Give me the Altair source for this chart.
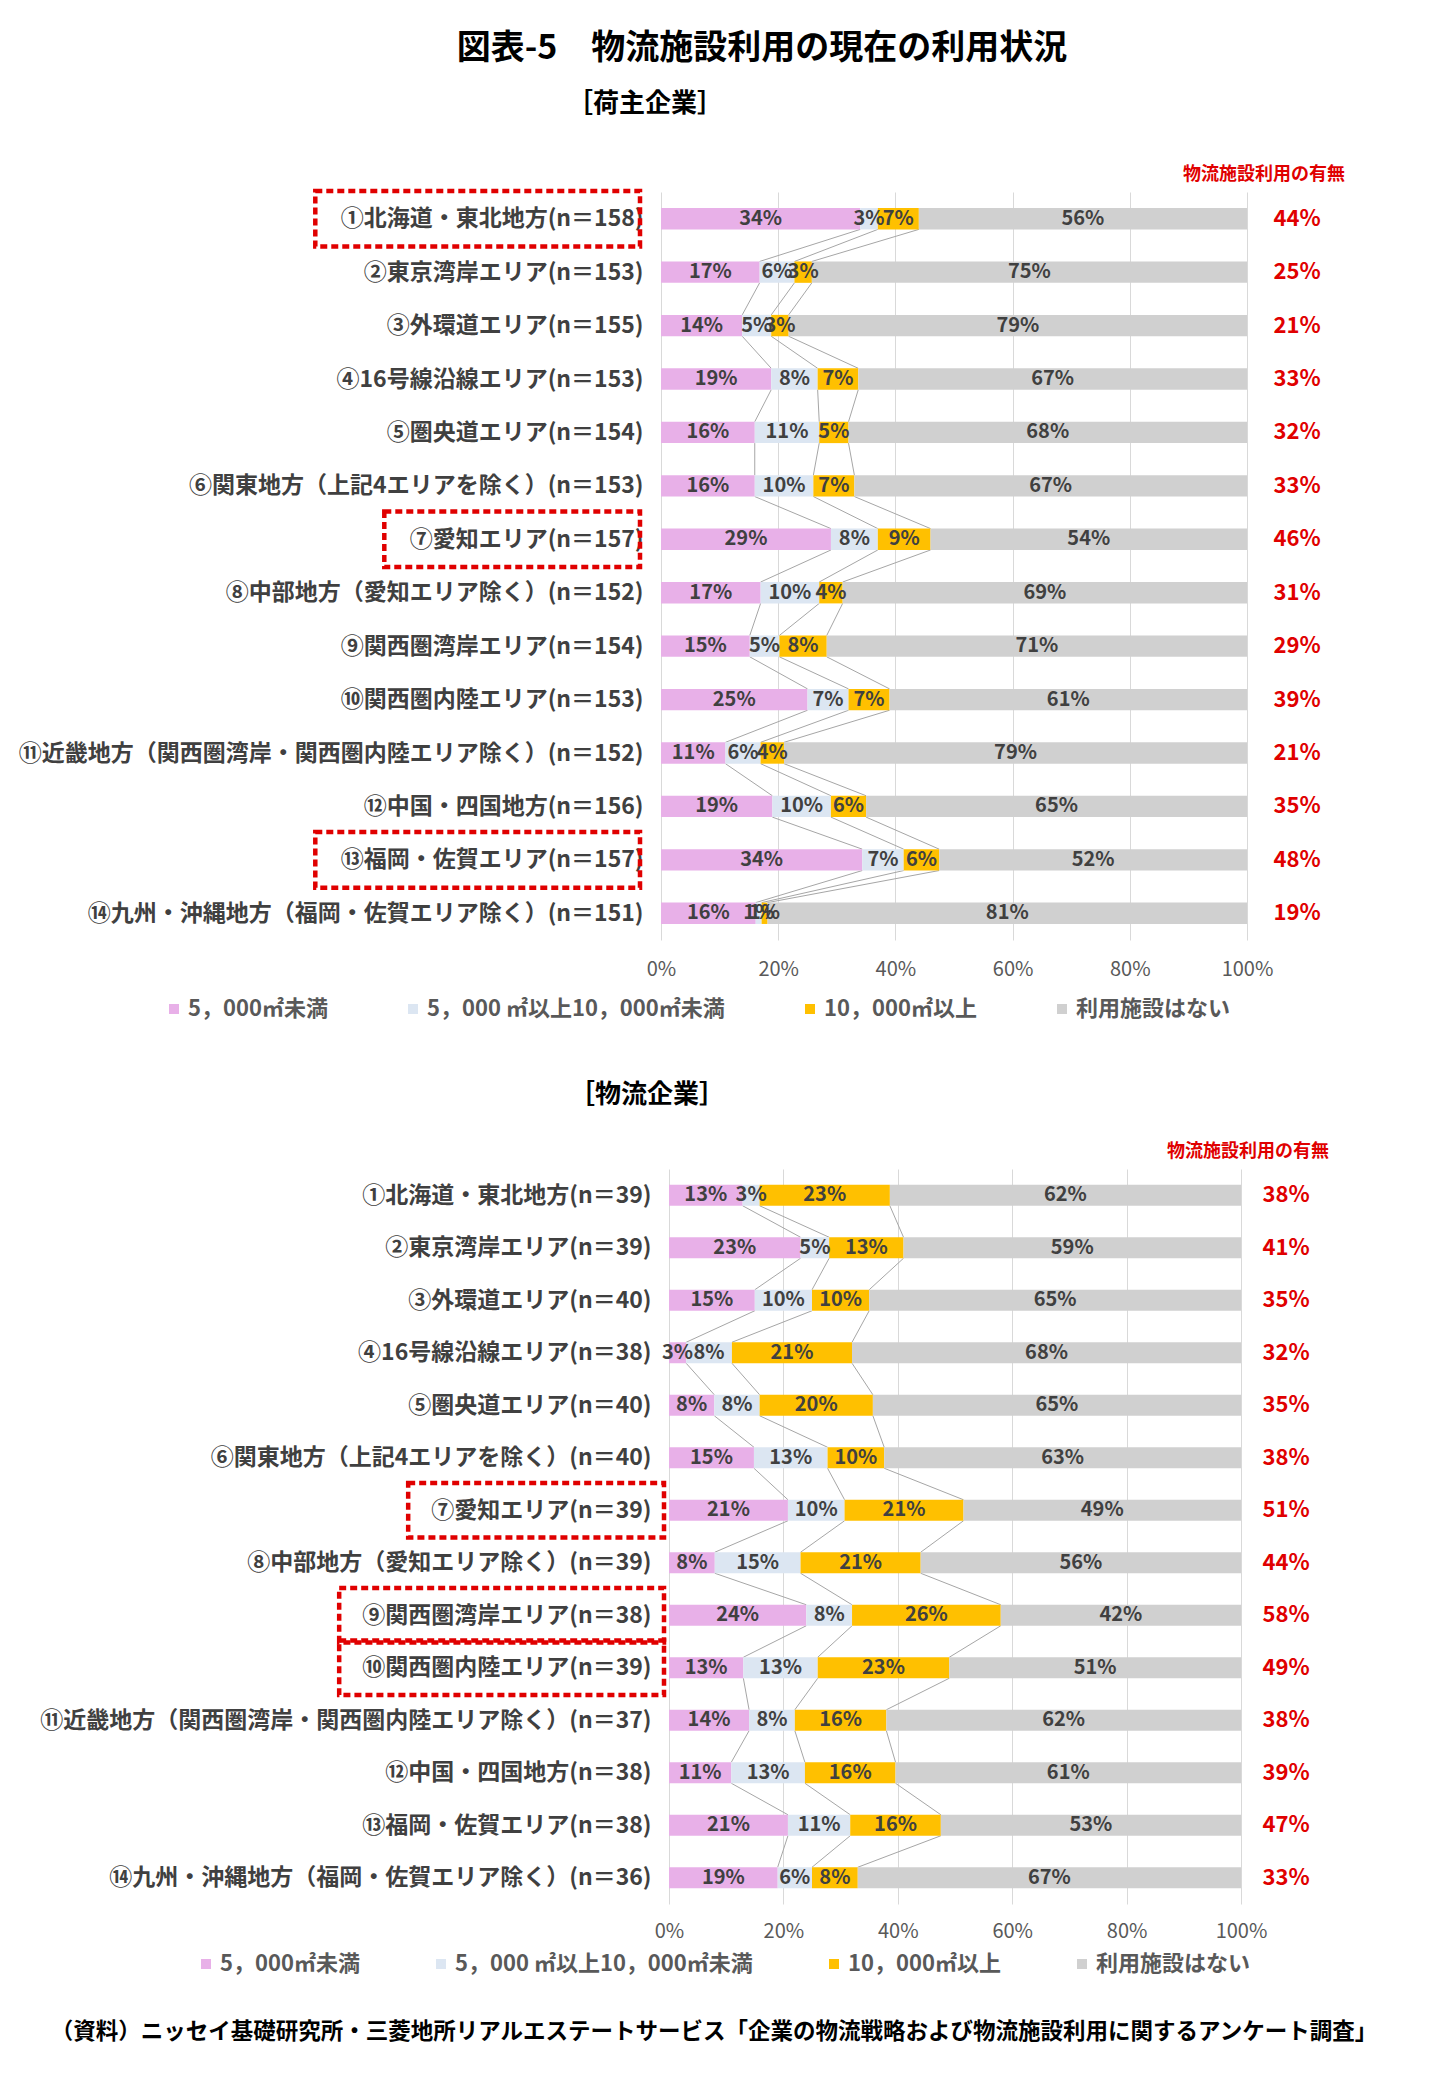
import json
import altair as alt
import pandas as pd

FONT = "Noto Sans CJK JP"

title_text = "図表-5　物流施設利用の現在の利用状況"
footnote_text = "（資料）ニッセイ基礎研究所・三菱地所リアルエステートサービス「企業の物流戦略および物流施設利用に関するアンケート調査」"
header_text = "物流施設利用の有無"

categories = ["5，000㎡未満", "5，000 ㎡以上10，000㎡未満", "10，000㎡以上", "利用施設はない"]
colors = ["#E8B0E8", "#DCE6F2", "#FFC000", "#D0D0D0"]

# ---- 荷主企業 ----
shipper_title = "［荷主企業］"
shipper_labels = [
    "①北海道・東北地方(n＝158)",
    "②東京湾岸エリア(n＝153)",
    "③外環道エリア(n＝155)",
    "④16号線沿線エリア(n＝153)",
    "⑤圏央道エリア(n＝154)",
    "⑥関東地方（上記4エリアを除く）(n＝153)",
    "⑦愛知エリア(n＝157)",
    "⑧中部地方（愛知エリア除く）(n＝152)",
    "⑨関西圏湾岸エリア(n＝154)",
    "⑩関西圏内陸エリア(n＝153)",
    "⑪近畿地方（関西圏湾岸・関西圏内陸エリア除く）(n＝152)",
    "⑫中国・四国地方(n＝156)",
    "⑬福岡・佐賀エリア(n＝157)",
    "⑭九州・沖縄地方（福岡・佐賀エリア除く）(n＝151)",
]
shipper_small = [34, 17, 14, 19, 16, 16, 29, 17, 15, 25, 11, 19, 34, 16]
shipper_mid = [3, 6, 5, 8, 11, 10, 8, 10, 5, 7, 6, 10, 7, 1]
shipper_large = [7, 3, 3, 7, 5, 7, 9, 4, 8, 7, 4, 6, 6, 1]
shipper_none = [56, 75, 79, 67, 68, 67, 54, 69, 71, 61, 79, 65, 52, 81]
shipper_use = [44, 25, 21, 33, 32, 33, 46, 31, 29, 39, 21, 35, 48, 19]
shipper_highlight = ["①", "⑦", "⑬"]

# ---- 物流企業 ----
logistics_title = "［物流企業］"
logistics_labels = [
    "①北海道・東北地方(n＝39)",
    "②東京湾岸エリア(n＝39)",
    "③外環道エリア(n＝40)",
    "④16号線沿線エリア(n＝38)",
    "⑤圏央道エリア(n＝40)",
    "⑥関東地方（上記4エリアを除く）(n＝40)",
    "⑦愛知エリア(n＝39)",
    "⑧中部地方（愛知エリア除く）(n＝39)",
    "⑨関西圏湾岸エリア(n＝38)",
    "⑩関西圏内陸エリア(n＝39)",
    "⑪近畿地方（関西圏湾岸・関西圏内陸エリア除く）(n＝37)",
    "⑫中国・四国地方(n＝38)",
    "⑬福岡・佐賀エリア(n＝38)",
    "⑭九州・沖縄地方（福岡・佐賀エリア除く）(n＝36)",
]
logistics_small = [13, 23, 15, 3, 8, 15, 21, 8, 24, 13, 14, 11, 21, 19]
logistics_mid = [3, 5, 10, 8, 8, 13, 10, 15, 8, 13, 8, 13, 11, 6]
logistics_large = [23, 13, 10, 21, 20, 10, 21, 21, 26, 23, 16, 16, 16, 8]
logistics_none = [62, 59, 65, 68, 65, 63, 49, 56, 42, 51, 62, 61, 53, 67]
logistics_use = [38, 41, 35, 32, 35, 38, 51, 44, 58, 49, 38, 39, 47, 33]
logistics_highlight = ["⑦", "⑨", "⑩"]


def est_width(s, size):
    w = 0.0
    for ch in s:
        if ch in "()":
            w += 0.33
        elif ord(ch) < 0x2000:
            w += 0.56
        else:
            w += 1.0
    return w * size


def panel(labels, small, mid, large, none, use, highlight, subtitle, p):
    series = [small, mid, large, none]
    n = len(labels)
    seg_rows, bounds = [], []
    for i in range(n):
        vals = [s[i] for s in series]
        total = sum(vals)
        cum = 0
        b = []
        for k, v in enumerate(vals):
            start = cum / total * 100
            cum += v
            end = cum / total * 100
            seg_rows.append(dict(row=i, cat=categories[k], value=v, start=start, end=end,
                                 mid=(start + end) / 2, y0=i - 0.2, y1=i + 0.2, label=f"{v}%"))
            b.append(end)
        bounds.append(b)
    seg = pd.DataFrame(seg_rows)
    lines = pd.DataFrame([dict(x=bounds[i][k], x2=bounds[i + 1][k], y=i + 0.2, y2=i + 0.8)
                          for i in range(n - 1) for k in range(3)])
    tot = pd.DataFrame(dict(row=list(range(n)), t=[f"{u}%" for u in use]))
    box_rows = []
    for i, lab in enumerate(labels):
        if lab[0] in highlight:
            box_rows.append(dict(bx=-(p["ypad"] + est_width(lab, 23) + p["boxpad"]),
                                 bx2=p["boxr"], by0=i - 0.52, by1=i + 0.52))
    boxes = pd.DataFrame(box_rows)

    xs = alt.Scale(domain=[0, 100], range=p["xrange"], nice=False, zero=False)
    ys = alt.Scale(domain=[-0.5, n - 0.5], reverse=True, nice=False, zero=False)
    xa = alt.Axis(values=[0, 20, 40, 60, 80, 100], labelExpr="datum.value + '%'", grid=True,
                  gridColor="#D9D9D9", gridWidth=1, domain=False, ticks=False, labelFont=FONT,
                  labelFontSize=20, labelColor="#595959", labelFontWeight="normal",
                  labelPadding=p["xpad"], labelFlush=False, labelOverlap=False, title=None)
    ya = alt.Axis(values=list(range(n)),
                  labelExpr=json.dumps(labels, ensure_ascii=False) + "[datum.value]",
                  grid=False, domain=False, ticks=False, labelFont=FONT, labelFontSize=23,
                  labelColor="#404040", labelFontWeight="bold", labelPadding=p["ypad"],
                  labelLimit=900, labelOverlap=False, labelFlush=False, title=None)

    line_layer = alt.Chart(lines).mark_rule(color="#A6A6A6", strokeWidth=1).encode(
        x=alt.X("x:Q", scale=xs, axis=xa), x2="x2:Q",
        y=alt.Y("y:Q", scale=ys, axis=ya), y2="y2:Q")
    bar_layer = alt.Chart(seg).mark_bar().encode(
        x=alt.X("start:Q", scale=xs, axis=xa), x2="end:Q",
        y=alt.Y("y0:Q", scale=ys, axis=ya), y2="y1:Q",
        color=alt.Color("cat:N", scale=alt.Scale(domain=categories, range=colors),
                        legend=alt.Legend(orient="none", legendX=p["lx"], legendY=p["ly"],
                                          direction="horizontal", symbolType="square",
                                          symbolSize=100, symbolStrokeWidth=0,
                                          labelFont=FONT, labelFontSize=22,
                                          labelColor="#595959", labelFontWeight="bold",
                                          labelLimit=600, labelOffset=3,
                                          columnPadding=p["lpad"], padding=0, title=None)))
    text_layer = alt.Chart(seg).mark_text(font=FONT, fontSize=20, fontWeight="bold",
                                          color="#404040").encode(
        x=alt.X("mid:Q", scale=xs, axis=xa),
        y=alt.Y("row:Q", scale=ys, axis=ya), text="label:N")
    tot_layer = alt.Chart(tot).mark_text(font=FONT, fontSize=22, fontWeight="bold",
                                         color="#E00000").encode(
        x=alt.value(p["totx"]), y=alt.Y("row:Q", scale=ys, axis=ya), text="t:N")
    head_layer = alt.Chart(pd.DataFrame({"t": [header_text]})).mark_text(
        font=FONT, fontSize=18, fontWeight="bold", color="#E00000").encode(
        x=alt.value(p["hx"]), y=alt.value(-17), text="t:N")
    sub_layer = alt.Chart(pd.DataFrame({"t": [subtitle]})).mark_text(
        font=FONT, fontSize=26, fontWeight="bold", color="#000000").encode(
        x=alt.value(p["sx"]), y=alt.value(p["sy"]), text="t:N")
    box_layer = alt.Chart(boxes).mark_rect(fillOpacity=0, stroke="#E00000", strokeWidth=4.5,
                                           strokeDash=[7, 4]).encode(
        x=alt.X("bx:Q", scale=None), x2="bx2:Q",
        y=alt.Y("by0:Q", scale=ys, axis=ya), y2="by1:Q")
    layers = [line_layer, bar_layer, text_layer, tot_layer, head_layer, sub_layer, box_layer]
    layers += p["extra"]
    return alt.layer(*layers).properties(width=p["w"], height=p["h"])


anchor = alt.Chart(pd.DataFrame({"a": [0]})).mark_rule(color="white", strokeWidth=1).encode(
    x=alt.value(-652), y=alt.value(-183), y2=alt.value(-182))
main_title = alt.Chart(pd.DataFrame({"t": [title_text]})).mark_text(
    font=FONT, fontSize=34, fontWeight="bold", color="#000000").encode(
    x=alt.value(101), y=alt.value(-143), text="t:N")
footnote = alt.Chart(pd.DataFrame({"t": [footnote_text]})).mark_text(
    font=FONT, fontSize=22.5, fontWeight="bold", color="#000000").encode(
    x=alt.value(53), y=alt.value(863), text="t:N")

top = panel(shipper_labels, shipper_small, shipper_mid, shipper_large, shipper_none,
            shipper_use, shipper_highlight, shipper_title,
            dict(w=586, h=748, xrange=[0, 586], xpad=19, ypad=18, totx=636, hx=603,
                 sx=-16, sy=-88, boxr=-21, boxpad=31, lx=-498, ly=806, lpad=74,
                 extra=[anchor, main_title]))
bottom = panel(logistics_labels, logistics_small, logistics_mid, logistics_large,
               logistics_none, logistics_use, logistics_highlight, logistics_title,
               dict(w=580, h=735, xrange=[8, 580], xpad=17, ypad=10, totx=625, hx=587,
                    sx=-14, sy=-74, boxr=3, boxpad=28, lx=-466, ly=784, lpad=70,
                    extra=[footnote]))

chart = alt.vconcat(top, bottom, spacing=229, bounds="flush").resolve_scale(
    color="independent").resolve_legend(color="independent").properties(
    padding=0).configure(font=FONT).configure_view(strokeWidth=0)

chart.save("out.html", embed_options={"renderer": "svg", "actions": False})
